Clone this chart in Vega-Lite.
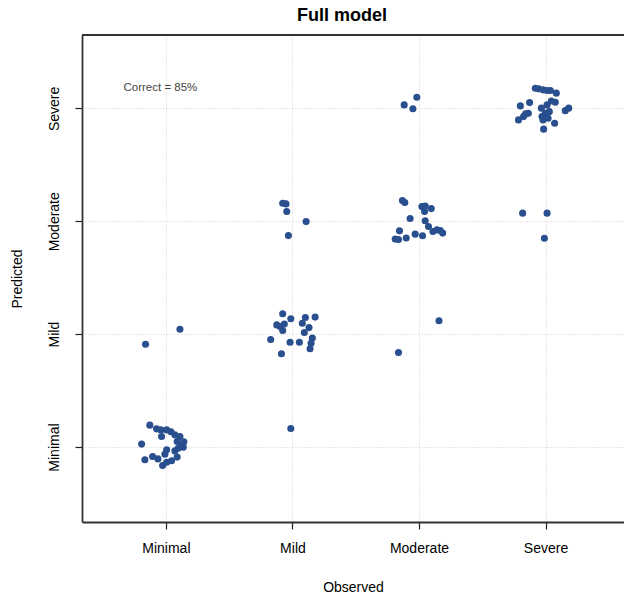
{
  "$schema": "https://vega.github.io/schema/vega-lite/v6.json",
  "width": 542,
  "height": 487,
  "autosize": {"type": "none"},
  "padding": {"left": 82, "top": 35, "right": 0, "bottom": 75},
  "background": "white",
  "config": {
    "view": {"stroke": null},
    "font": "Liberation Sans",
    "axis": {"labelFont": "Liberation Sans", "titleFont": "Liberation Sans"}
  },
  "title": {
    "text": "Full model",
    "fontSize": 18,
    "fontWeight": "bold",
    "font": "Liberation Sans",
    "anchor": "middle",
    "frame": "group",
    "dx": -11,
    "offset": 9,
    "color": "black"
  },
  "datasets": {
    "pts": [
      {"observed": "Minimal", "predicted": "Mild", "obs_j": 1.111, "pred_j": 2.044},
      {"observed": "Minimal", "predicted": "Mild", "obs_j": 0.839, "pred_j": 1.911},
      {"observed": "Minimal", "predicted": "Minimal", "obs_j": 0.873, "pred_j": 1.194},
      {"observed": "Minimal", "predicted": "Minimal", "obs_j": 0.926, "pred_j": 1.161},
      {"observed": "Minimal", "predicted": "Minimal", "obs_j": 0.960, "pred_j": 1.152},
      {"observed": "Minimal", "predicted": "Minimal", "obs_j": 1.006, "pred_j": 1.152},
      {"observed": "Minimal", "predicted": "Minimal", "obs_j": 0.966, "pred_j": 1.093},
      {"observed": "Minimal", "predicted": "Minimal", "obs_j": 1.071, "pred_j": 1.108},
      {"observed": "Minimal", "predicted": "Minimal", "obs_j": 1.111, "pred_j": 1.093},
      {"observed": "Minimal", "predicted": "Minimal", "obs_j": 0.808, "pred_j": 1.026},
      {"observed": "Minimal", "predicted": "Minimal", "obs_j": 1.089, "pred_j": 1.049},
      {"observed": "Minimal", "predicted": "Minimal", "obs_j": 1.124, "pred_j": 1.013},
      {"observed": "Minimal", "predicted": "Minimal", "obs_j": 1.137, "pred_j": 0.999},
      {"observed": "Minimal", "predicted": "Minimal", "obs_j": 1.097, "pred_j": 0.990},
      {"observed": "Minimal", "predicted": "Minimal", "obs_j": 1.006, "pred_j": 0.975},
      {"observed": "Minimal", "predicted": "Minimal", "obs_j": 0.992, "pred_j": 0.937},
      {"observed": "Minimal", "predicted": "Minimal", "obs_j": 0.895, "pred_j": 0.916},
      {"observed": "Minimal", "predicted": "Minimal", "obs_j": 0.834, "pred_j": 0.887},
      {"observed": "Minimal", "predicted": "Minimal", "obs_j": 1.089, "pred_j": 0.911},
      {"observed": "Minimal", "predicted": "Minimal", "obs_j": 1.045, "pred_j": 0.878},
      {"observed": "Minimal", "predicted": "Minimal", "obs_j": 1.006, "pred_j": 0.866},
      {"observed": "Minimal", "predicted": "Minimal", "obs_j": 0.974, "pred_j": 0.836},
      {"observed": "Minimal", "predicted": "Minimal", "obs_j": 1.040, "pred_j": 1.135},
      {"observed": "Minimal", "predicted": "Minimal", "obs_j": 1.142, "pred_j": 1.046},
      {"observed": "Minimal", "predicted": "Minimal", "obs_j": 0.937, "pred_j": 0.895},
      {"observed": "Minimal", "predicted": "Minimal", "obs_j": 1.071, "pred_j": 0.966},
      {"observed": "Mild", "predicted": "Moderate", "obs_j": 1.923, "pred_j": 3.160},
      {"observed": "Mild", "predicted": "Moderate", "obs_j": 1.949, "pred_j": 3.154},
      {"observed": "Mild", "predicted": "Moderate", "obs_j": 1.955, "pred_j": 3.086},
      {"observed": "Mild", "predicted": "Moderate", "obs_j": 2.108, "pred_j": 2.997},
      {"observed": "Mild", "predicted": "Moderate", "obs_j": 1.968, "pred_j": 2.873},
      {"observed": "Mild", "predicted": "Mild", "obs_j": 1.923, "pred_j": 2.180},
      {"observed": "Mild", "predicted": "Mild", "obs_j": 1.987, "pred_j": 2.136},
      {"observed": "Mild", "predicted": "Mild", "obs_j": 2.102, "pred_j": 2.147},
      {"observed": "Mild", "predicted": "Mild", "obs_j": 2.179, "pred_j": 2.151},
      {"observed": "Mild", "predicted": "Mild", "obs_j": 2.078, "pred_j": 2.097},
      {"observed": "Mild", "predicted": "Mild", "obs_j": 1.876, "pred_j": 2.082},
      {"observed": "Mild", "predicted": "Mild", "obs_j": 1.902, "pred_j": 2.067},
      {"observed": "Mild", "predicted": "Mild", "obs_j": 1.936, "pred_j": 2.089},
      {"observed": "Mild", "predicted": "Mild", "obs_j": 1.923, "pred_j": 2.032},
      {"observed": "Mild", "predicted": "Mild", "obs_j": 2.131, "pred_j": 2.058},
      {"observed": "Mild", "predicted": "Mild", "obs_j": 2.094, "pred_j": 2.014},
      {"observed": "Mild", "predicted": "Mild", "obs_j": 1.828, "pred_j": 1.952},
      {"observed": "Mild", "predicted": "Mild", "obs_j": 1.981, "pred_j": 1.929},
      {"observed": "Mild", "predicted": "Mild", "obs_j": 2.055, "pred_j": 1.929},
      {"observed": "Mild", "predicted": "Mild", "obs_j": 2.157, "pred_j": 1.965},
      {"observed": "Mild", "predicted": "Mild", "obs_j": 2.147, "pred_j": 1.920},
      {"observed": "Mild", "predicted": "Mild", "obs_j": 2.139, "pred_j": 1.870},
      {"observed": "Mild", "predicted": "Mild", "obs_j": 1.913, "pred_j": 1.826},
      {"observed": "Mild", "predicted": "Minimal", "obs_j": 1.987, "pred_j": 1.164},
      {"observed": "Moderate", "predicted": "Severe", "obs_j": 2.983, "pred_j": 4.099},
      {"observed": "Moderate", "predicted": "Severe", "obs_j": 2.883, "pred_j": 4.031},
      {"observed": "Moderate", "predicted": "Severe", "obs_j": 2.952, "pred_j": 3.996},
      {"observed": "Moderate", "predicted": "Moderate", "obs_j": 2.869, "pred_j": 3.183},
      {"observed": "Moderate", "predicted": "Moderate", "obs_j": 2.888, "pred_j": 3.166},
      {"observed": "Moderate", "predicted": "Moderate", "obs_j": 3.023, "pred_j": 3.130},
      {"observed": "Moderate", "predicted": "Moderate", "obs_j": 3.049, "pred_j": 3.136},
      {"observed": "Moderate", "predicted": "Moderate", "obs_j": 3.097, "pred_j": 3.112},
      {"observed": "Moderate", "predicted": "Moderate", "obs_j": 3.044, "pred_j": 3.086},
      {"observed": "Moderate", "predicted": "Moderate", "obs_j": 2.930, "pred_j": 3.024},
      {"observed": "Moderate", "predicted": "Moderate", "obs_j": 3.049, "pred_j": 3.004},
      {"observed": "Moderate", "predicted": "Moderate", "obs_j": 3.075, "pred_j": 2.953},
      {"observed": "Moderate", "predicted": "Moderate", "obs_j": 2.846, "pred_j": 2.915},
      {"observed": "Moderate", "predicted": "Moderate", "obs_j": 3.110, "pred_j": 2.909},
      {"observed": "Moderate", "predicted": "Moderate", "obs_j": 3.142, "pred_j": 2.924},
      {"observed": "Moderate", "predicted": "Moderate", "obs_j": 3.168, "pred_j": 2.918},
      {"observed": "Moderate", "predicted": "Moderate", "obs_j": 3.187, "pred_j": 2.895},
      {"observed": "Moderate", "predicted": "Moderate", "obs_j": 2.970, "pred_j": 2.886},
      {"observed": "Moderate", "predicted": "Moderate", "obs_j": 3.028, "pred_j": 2.871},
      {"observed": "Moderate", "predicted": "Moderate", "obs_j": 2.899, "pred_j": 2.851},
      {"observed": "Moderate", "predicted": "Moderate", "obs_j": 2.812, "pred_j": 2.842},
      {"observed": "Moderate", "predicted": "Moderate", "obs_j": 2.838, "pred_j": 2.838},
      {"observed": "Moderate", "predicted": "Mild", "obs_j": 3.158, "pred_j": 2.118},
      {"observed": "Moderate", "predicted": "Mild", "obs_j": 2.838, "pred_j": 1.837},
      {"observed": "Severe", "predicted": "Severe", "obs_j": 3.919, "pred_j": 4.179},
      {"observed": "Severe", "predicted": "Severe", "obs_j": 3.945, "pred_j": 4.173},
      {"observed": "Severe", "predicted": "Severe", "obs_j": 3.980, "pred_j": 4.164},
      {"observed": "Severe", "predicted": "Severe", "obs_j": 4.012, "pred_j": 4.158},
      {"observed": "Severe", "predicted": "Severe", "obs_j": 4.038, "pred_j": 4.158},
      {"observed": "Severe", "predicted": "Severe", "obs_j": 4.085, "pred_j": 4.135},
      {"observed": "Severe", "predicted": "Severe", "obs_j": 3.874, "pred_j": 4.051},
      {"observed": "Severe", "predicted": "Severe", "obs_j": 4.077, "pred_j": 4.055},
      {"observed": "Severe", "predicted": "Severe", "obs_j": 4.012, "pred_j": 4.031},
      {"observed": "Severe", "predicted": "Severe", "obs_j": 3.801, "pred_j": 4.022},
      {"observed": "Severe", "predicted": "Severe", "obs_j": 3.967, "pred_j": 4.002},
      {"observed": "Severe", "predicted": "Severe", "obs_j": 4.183, "pred_j": 4.002},
      {"observed": "Severe", "predicted": "Severe", "obs_j": 4.156, "pred_j": 3.980},
      {"observed": "Severe", "predicted": "Severe", "obs_j": 3.864, "pred_j": 3.957},
      {"observed": "Severe", "predicted": "Severe", "obs_j": 4.030, "pred_j": 3.971},
      {"observed": "Severe", "predicted": "Severe", "obs_j": 3.998, "pred_j": 3.957},
      {"observed": "Severe", "predicted": "Severe", "obs_j": 3.826, "pred_j": 3.927},
      {"observed": "Severe", "predicted": "Severe", "obs_j": 3.786, "pred_j": 3.898},
      {"observed": "Severe", "predicted": "Severe", "obs_j": 3.972, "pred_j": 3.927},
      {"observed": "Severe", "predicted": "Severe", "obs_j": 4.020, "pred_j": 3.913},
      {"observed": "Severe", "predicted": "Severe", "obs_j": 3.980, "pred_j": 3.898},
      {"observed": "Severe", "predicted": "Severe", "obs_j": 4.072, "pred_j": 3.869},
      {"observed": "Severe", "predicted": "Severe", "obs_j": 3.985, "pred_j": 3.816},
      {"observed": "Severe", "predicted": "Severe", "obs_j": 3.842, "pred_j": 3.951},
      {"observed": "Severe", "predicted": "Severe", "obs_j": 4.046, "pred_j": 4.066},
      {"observed": "Severe", "predicted": "Moderate", "obs_j": 3.819, "pred_j": 3.072},
      {"observed": "Severe", "predicted": "Moderate", "obs_j": 4.012, "pred_j": 3.072},
      {"observed": "Severe", "predicted": "Moderate", "obs_j": 3.991, "pred_j": 2.850}
    ],
    "note": [
      {"label": "Correct = 85%", "x": 0.665, "y": 4.181}
    ],
    "frame": [
      {"top": 4.65}
    ]
  },
  "layer": [
    {
      "data": {"name": "pts"},
      "mark": {"type": "circle", "size": 50, "color": "#2a4f8f", "opacity": 1},
      "encoding": {
        "x": {
          "field": "obs_j",
          "type": "quantitative",
          "scale": {"domain": [0.337, 4.62], "nice": false, "zero": false},
          "axis": {
            "values": [1, 2, 3, 4],
            "labelExpr": "['','Minimal','Mild','Moderate','Severe'][datum.value]",
            "title": "Observed",
            "titleFontSize": 14,
            "titleFontWeight": "normal",
            "titleColor": "black",
            "titlePadding": 25,
            "labelFontSize": 14,
            "labelColor": "black",
            "labelPadding": 12,
            "tickSize": 7,
            "tickColor": "#222",
            "tickWidth": 1.2,
            "domainColor": "#333",
            "domainWidth": 1.8,
            "grid": true,
            "gridColor": "#d0d0d0",
            "gridDash": [1, 2],
            "gridWidth": 1
          }
        },
        "y": {
          "field": "pred_j",
          "type": "quantitative",
          "scale": {"domain": [0.336, 4.65], "nice": false, "zero": false},
          "axis": {
            "values": [1, 2, 3, 4],
            "labelExpr": "['','Minimal','Mild','Moderate','Severe'][datum.value]",
            "title": "Predicted",
            "titleFontSize": 14,
            "titleFontWeight": "normal",
            "titleColor": "black",
            "titlePadding": 23,
            "labelFontSize": 14,
            "labelColor": "black",
            "labelAngle": -90,
            "labelAlign": "center",
            "labelBaseline": "bottom",
            "labelPadding": 14,
            "tickSize": 7,
            "tickColor": "#222",
            "tickWidth": 1.2,
            "domainColor": "#333",
            "domainWidth": 1.8,
            "grid": true,
            "gridColor": "#d0d0d0",
            "gridDash": [1, 2],
            "gridWidth": 1
          }
        }
      }
    },
    {
      "data": {"name": "frame"},
      "mark": {"type": "rule", "color": "#333", "strokeWidth": 1.8},
      "encoding": {
        "y": {"field": "top", "type": "quantitative"}
      }
    },
    {
      "data": {"name": "note"},
      "mark": {"type": "text", "align": "left", "baseline": "middle", "fontSize": 11.5, "color": "#444", "font": "Liberation Sans"},
      "encoding": {
        "x": {"field": "x", "type": "quantitative"},
        "y": {"field": "y", "type": "quantitative"},
        "text": {"field": "label"}
      }
    }
  ]
}
